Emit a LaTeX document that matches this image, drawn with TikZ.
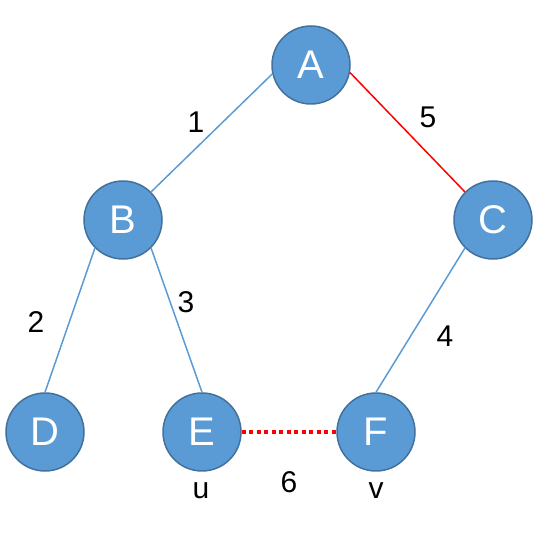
\documentclass[tikz,border=0pt]{standalone}
\usepackage{fontspec}
\setmainfont{Liberation Sans}
\definecolor{nodeblue}{HTML}{5B9BD5}
\definecolor{nodeedge}{HTML}{41719C}
\tikzset{
  vertex/.style={circle,fill=nodeblue,draw=nodeedge,line width=1.5pt,minimum size=78pt,inner sep=0pt,text=white,font=\fontsize{40}{46}\selectfont},
  edge/.style={draw=nodeblue,line width=1.5pt},
  redge/.style={draw=red,line width=1.5pt},
  weight/.style={font=\fontsize{30}{34}\selectfont,inner sep=0pt}
}
\begin{document}
\begin{tikzpicture}[x=1pt,y=-1pt,line cap=butt]
			\useasboundingbox (0,0) rectangle (544,534);
			\node[vertex] (A) at (311,65) {A};
			\node[vertex] (B) at (123,220) {B};
			\node[vertex] (C) at (493,220) {C};
			\node[vertex] (D) at (45,432) {D};
			\node[vertex] (E) at (202,432) {E};
			\node[vertex] (F) at (376,432) {F};
			\draw[edge] (A.193)--(B.north east);
			\draw[redge] (A.349)--(C.north west);
			\draw[edge] (B.south west)--(D.north);
			\draw[edge] (B.south east)--(E.north);
			\draw[edge] (C.south west)--(F.north);
			\draw[draw=red,line width=4pt,dash pattern=on 4pt off 3.5pt] (E.east)--(F.west);
			\node[weight] (w1) at (196,122) {1};
			\node[weight] (w5) at (428,117) {5};
			\node[weight] (w2) at (36,322) {2};
			\node[weight] (w3) at (186,302) {3};
			\node[weight] (w4) at (445,336) {4};
			\node[weight] (w6) at (289,482) {6};
			\node[weight] (u) at (201,491) {u};
			\node[weight] (v) at (376,491) {v};
		\end{tikzpicture}
\end{document}
